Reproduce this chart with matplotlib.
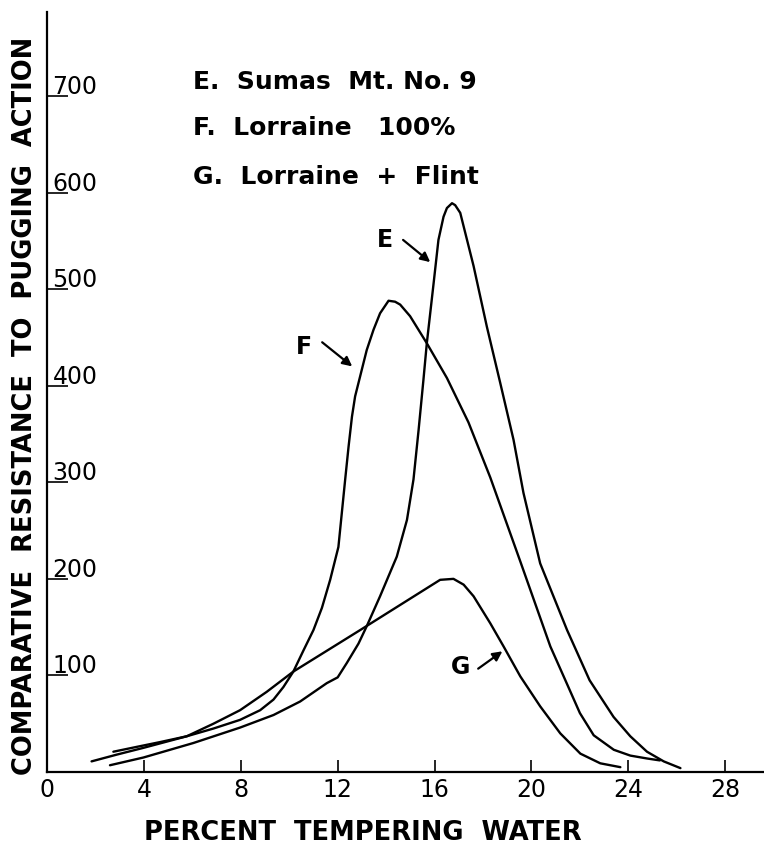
import matplotlib
matplotlib.use("Agg")
import matplotlib.pyplot as plt

# ---- data ----
e_x = [2.6, 3.98, 6.04, 7.97, 9.35, 10.45, 11.55, 12.0, 12.38, 12.86, 13.2, 13.75, 14.44,
       14.86, 15.13, 15.34, 15.54, 15.68, 15.96, 16.16, 16.37, 16.51, 16.72, 16.85, 17.06,
       17.34, 17.61, 18.16, 18.71, 19.26, 19.67, 20.36, 21.47, 22.4, 23.39, 24.08, 24.77,
       25.46, 26.15]
e_y = [7, 15, 30, 46, 59, 73, 92, 98, 113, 133, 151, 182, 223,
       261, 303, 354, 406, 444, 506, 551, 575, 584, 589, 587, 579,
       551, 524, 461, 403, 344, 289, 216, 147, 95, 57, 37, 21,
       11, 4]

f_x = [2.74, 3.7, 4.67, 5.77, 6.87, 7.97, 8.8, 9.35, 9.76, 10.17, 10.59, 11.0, 11.35,
       11.69, 12.03, 12.17, 12.31, 12.45, 12.59, 12.72, 12.93, 13.2, 13.48, 13.75, 14.1,
       14.37, 14.58, 14.99, 15.68, 16.51, 17.4, 18.3, 19.54, 20.78, 21.4, 22.0, 22.57,
       23.4, 24.08, 24.77, 25.3]
f_y = [21, 26, 31, 37, 45, 54, 64, 75, 88, 104, 126, 147, 170,
       199, 233, 268, 303, 337, 368, 389, 410, 437, 458, 475, 488,
       487, 484, 472, 444, 408, 362, 305, 218, 130, 95, 61, 38,
       23, 17, 14, 12]

g_x = [1.84, 2.88, 3.98, 5.77, 6.87, 7.97, 9.07, 10.17, 12.93, 16.23, 16.78, 17.2,
       17.61, 18.3, 18.85, 19.54, 20.36, 21.19, 22.02, 22.84, 23.67]
g_y = [11, 18, 25, 37, 50, 64, 83, 104, 147, 199, 200, 194,
       182, 154, 130, 99, 68, 40, 19, 9, 5]

x_ticks = [0, 4, 8, 12, 16, 20, 24, 28]
y_ticks = [100, 200, 300, 400, 500, 600, 700]
legend_lines = ["E.  Sumas  Mt. No. 9", "F.  Lorraine   100%", "G.  Lorraine  +  Flint"]
x_label = "PERCENT  TEMPERING  WATER"
y_label = "COMPARATIVE  RESISTANCE  TO  PUGGING  ACTION"

plt.rcParams['font.family'] = ['DejaVu Sans']
plt.rcParams['font.weight'] = 'bold'

fig = plt.figure(figsize=(7.64, 8.47), dpi=100)
ax = fig.add_axes([47/764, 75/847, 1 - 47/764, (772-12)/847])

lw = 1.7
for xs, ys in [(e_x, e_y), (f_x, f_y), (g_x, g_y)]:
    ax.plot(xs, ys, color='black', lw=lw, solid_capstyle='round', solid_joinstyle='round')

ax.set_xlim(0, 29.6)
ax.set_ylim(0, 787)

for s in ['top', 'right']:
    ax.spines[s].set_visible(False)
for s in ['left', 'bottom']:
    ax.spines[s].set_linewidth(1.6)

ax.set_xticks(x_ticks)
ax.set_xticklabels([str(t) for t in x_ticks], fontsize=17, fontweight='normal')
ax.tick_params(axis='x', direction='in', length=8.5, width=1.2, pad=4)

ax.set_yticks(y_ticks)
ax.set_yticklabels([])
ax.tick_params(axis='y', direction='in', length=15, width=1.2)
for v in y_ticks:
    ax.annotate(str(v), xy=(0, v), xycoords=('axes fraction', 'data'),
                xytext=(4.0, 1.5), textcoords='offset points',
                ha='left', va='baseline', fontsize=17, fontweight='normal')

# legend-like text
for txt, yy in zip(legend_lines, [715, 667, 616]):
    ax.text(6.03, yy, txt, ha='left', va='center', fontsize=18)

# curve labels with arrows
ap = dict(arrowstyle='-|>', lw=1.6, color='black', mutation_scale=14, shrinkA=0, shrinkB=0)
ax.text(13.96, 551, "E", ha='center', va='center', fontsize=17)
ax.annotate("", xy=(15.82, 528), xytext=(14.7, 551), arrowprops=ap)
ax.text(10.6, 440, "F", ha='center', va='center', fontsize=17)
ax.annotate("", xy=(12.6, 420), xytext=(11.36, 445), arrowprops=ap)
ax.text(17.06, 109, "G", ha='center', va='center', fontsize=17)
ax.annotate("", xy=(18.8, 125), xytext=(17.8, 107), arrowprops=ap)

fig.text(363/764, 1 - 833/847, x_label, ha='center', va='center', fontsize=18.5)
fig.text(25/764, 1 - 406/847, y_label, ha='center', va='center', rotation=90, fontsize=18.5)

fig.savefig("out.png", dpi=100)
